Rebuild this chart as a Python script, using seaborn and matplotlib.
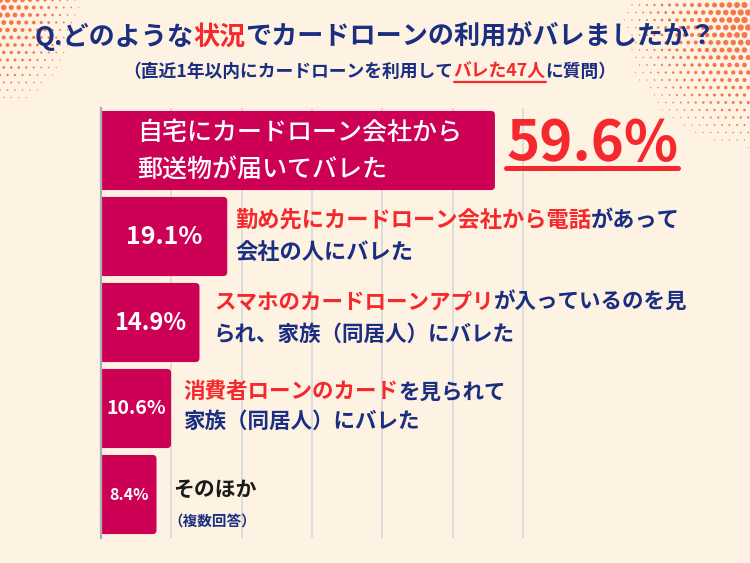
import numpy as np
import pandas as pd
import matplotlib
matplotlib.use("Agg")
import matplotlib.pyplot as plt
from matplotlib.patches import FancyBboxPatch
from matplotlib.lines import Line2D
import seaborn as sns

# ---------------- data ----------------
categories = ["自宅への郵送物", "勤め先への電話", "スマホのアプリ", "消費者ローンのカード", "そのほか"]
values = [59.6, 19.1, 14.9, 10.6, 8.4]
value_labels = ["59.6%", "19.1%", "14.9%", "10.6%", "8.4%"]

title_runs = [("Q.どのような", "navy"), ("状況", "red"), ("でカードローンの利用がバレましたか？", "navy")]
subtitle_runs = [("（直近1年以内にカードローンを利用して", "navy"), ("バレた47人", "redu"), ("に質問）", "navy")]

bar1_lines = ["自宅にカードローン会社から", "郵送物が届いてバレた"]
bar2_lines = [[("勤め先にカードローン会社から電話", "red"), ("があって", "navy")],
              [("会社の人にバレた", "navy")]]
bar3_lines = [[("スマホのカードローンアプリ", "red"), ("が入っているのを見", "navy")],
              [("られ、家族（同居人）にバレた", "navy")]]
bar4_lines = [[("消費者ローンのカード", "red"), ("を見られて", "navy")],
              [("家族（同居人）にバレた", "navy")]]
bar5_main = "そのほか"
note_text = "（複数回答）"

# ---------------- style ----------------
W, H = 750, 563
BG = "#FEF3E2"
BAR = "#CC0055"
NAVY = "#1A2E82"
RED = "#F5282D"
GRID = "#DCDCDC"
COL = {"navy": NAVY, "red": RED, "redu": RED, "black": "#1A1A1A", "white": "white"}

sns.set_theme(style="white")
FONT = ["Noto Sans CJK JP", "DejaVu Sans"]
plt.rcParams["font.family"] = FONT

fig = plt.figure(figsize=(W / 100, H / 100), dpi=100, facecolor=BG)

# decorative halftone dots (background layer)
deco = fig.add_axes([0, 0, 1, 1], zorder=0)
deco.set_xlim(0, W)
deco.set_ylim(H, 0)
deco.axis("off")
deco.set_facecolor(BG)
pts_x, pts_y, pts_s = [], [], []
sp = 7.5
for cx, cy, rx, ry, rmax in [(0, 0, 95, 125, 3.0), (752, 20, 150, 150, 3.4)]:
    for j in range(-2, 40):
        for i in range(-40, 40):
            x = cx + i * sp + (sp / 2 if j % 2 else 0)
            y = cy + j * sp
            if x < 0 or x > W or y < 0 or y > H:
                continue
            d = np.sqrt(((x - cx) / rx) ** 2 + ((y - cy) / ry) ** 2)
            r = rmax * (1 - d)
            if r > 0.5:
                pts_x.append(x)
                pts_y.append(y)
                pts_s.append((1.44 * r) ** 2)
deco.scatter(pts_x, pts_y, s=pts_s, color="#F46A3C", linewidths=0, alpha=0.9)

# ---------------- bar chart ----------------
px_per = 6.61
ax_left, ax_top, ax_bot = 101, 107.5, 537.5
ax = fig.add_axes([ax_left / W, 1 - ax_bot / H, (W - ax_left) / W, (ax_bot - ax_top) / H], zorder=1)
ax.patch.set_alpha(0)
df = pd.DataFrame({"category": categories, "value": values})
sns.barplot(data=df, x="value", y="category", color=BAR, saturation=1, width=0.92,
            orient="h", ax=ax, zorder=3)
ax.set_xlim(0, (W - ax_left) / px_per)
ax.set_ylim(len(categories) - 0.5, -0.5)
gx = np.arange(1, 7) * 10.64
ax.set_xticks(gx)
ax.set_xticklabels([])
ax.set_yticks([])
ax.set_xlabel("")
ax.set_ylabel("")
ax.tick_params(length=0)
ax.grid(axis="x", color=GRID, linewidth=1.4, zorder=0)
ax.grid(axis="y", visible=False)
for s in ["top", "right", "bottom"]:
    ax.spines[s].set_visible(False)
ax.spines["left"].set_color("#A8AEB6")
ax.spines["left"].set_linewidth(1.6)
ax.spines["left"].set_zorder(5)

# round the bar ends
xr = 0.6
aspect = (1 / 86) / (1 / px_per)
for p in list(ax.patches):
    x0, y0, w, h = p.get_x(), p.get_y(), p.get_width(), p.get_height()
    p.remove()
    fb = FancyBboxPatch((x0 - 1.5, y0), w + 1.5, h,
                        boxstyle=f"round,pad=0,rounding_size={xr}",
                        mutation_aspect=aspect, facecolor=BAR, edgecolor="none", zorder=3)
    ax.add_patch(fb)

fig.canvas.draw()
renderer = fig.canvas.get_renderer()


def fxy(x, y):
    return x / W, 1 - y / H


def measure(s, size, weight):
    t = fig.text(0, 0, s, fontsize=size, weight=weight, family=FONT)
    w = t.get_window_extent(renderer).width
    t.remove()
    return w


def draw_runs(x, y, runs, size, ha="left", weight="bold"):
    widths = [measure(s, size, weight) for s, _ in runs]
    total = sum(widths)
    cur = x - total / 2 if ha == "center" else x
    for (s, c), w in zip(runs, widths):
        fig.text(*fxy(cur, y), s, fontsize=size, weight=weight, color=COL[c],
                 ha="left", va="center", family=FONT, zorder=10)
        if c == "redu":
            fig.add_artist(Line2D([cur / W, (cur + w) / W], [1 - (y + size * 0.78) / H] * 2,
                                  color=RED, linewidth=1.6, zorder=10))
        cur += w


# title & subtitle
draw_runs(375, 37, title_runs, 18.8, ha="center")
draw_runs(370, 72, subtitle_runs, 12.8, ha="center")

# bar 1
fig.text(*fxy(137, 133), bar1_lines[0], fontsize=18, weight="medium", color="white", va="center", zorder=10)
fig.text(*fxy(137, 170), bar1_lines[1], fontsize=18, weight="medium", color="white", va="center", zorder=10)
big = fig.text(*fxy(506, 143), value_labels[0], fontsize=40.5, weight="bold", color=RED,
               va="center", ha="left", zorder=10)
bw = big.get_window_extent(renderer).width
fig.add_artist(Line2D([506 / W, (506 + bw) / W], [1 - 168 / H] * 2, color=RED, linewidth=3.6, zorder=10))

# value labels inside bars
for i, (lab, size) in enumerate(zip(value_labels[1:], [18, 17, 14, 11.5]), start=1):
    ax.text(values[i] / 2, i, lab, fontsize=size, weight="bold", color="white",
            ha="center", va="center", zorder=6)

# bar 2-4 labels
draw_runs(235, 220, bar2_lines[0], 16)
draw_runs(235, 252, bar2_lines[1], 16)
draw_runs(214, 302, bar3_lines[0], 15.5)
draw_runs(214, 334, bar3_lines[1], 15.5)
draw_runs(183, 392, bar4_lines[0], 15.5)
draw_runs(183, 421, bar4_lines[1], 15.5)

# bar 5
fig.text(*fxy(173, 489), bar5_main, fontsize=15, weight="bold", color=COL["black"], va="center", zorder=10)
fig.text(*fxy(168, 522), note_text, fontsize=10.5, weight="bold", color=NAVY, va="center", zorder=10)

fig.savefig("out.png", dpi=100, facecolor=BG)
